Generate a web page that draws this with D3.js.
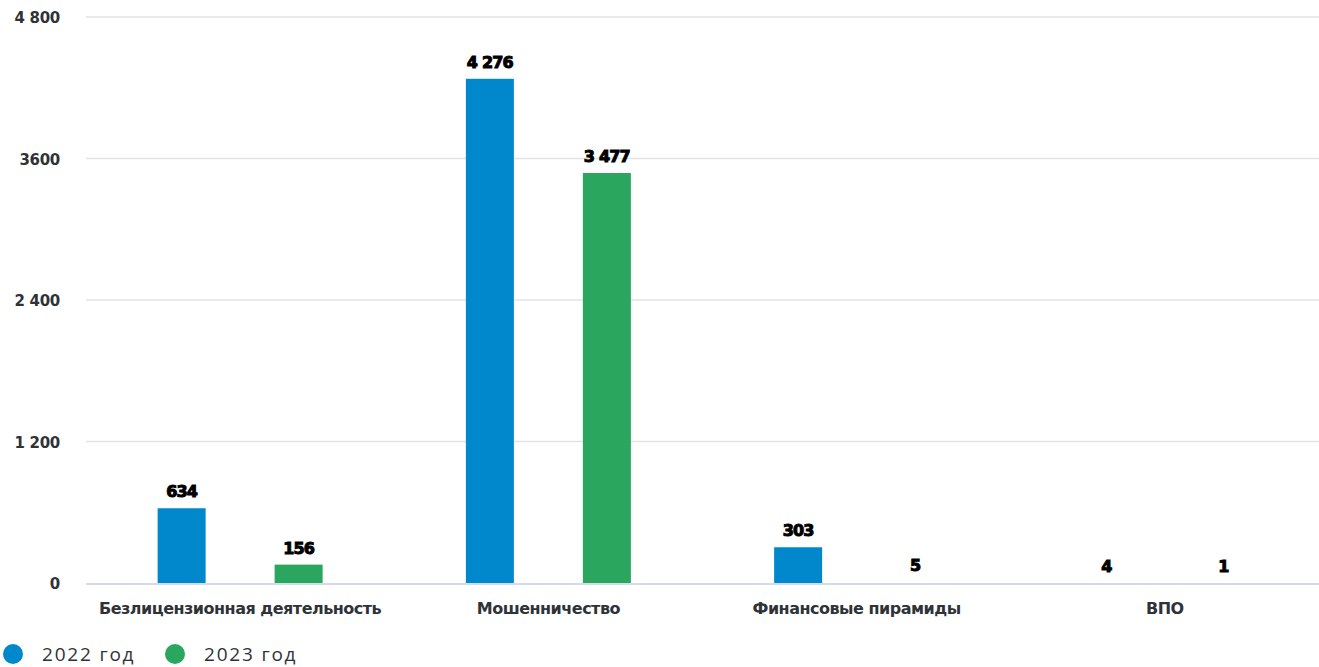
<!DOCTYPE html>
<html><head><meta charset="utf-8">
<script src="https://cdn.jsdelivr.net/npm/d3@7"></script>
<style>body{margin:0;background:#fff}svg{display:block}</style>
</head><body>
<svg id="c" width="1319" height="667"></svg>
<script>
const categories = ["Безлицензионная деятельность","Мошенничество","Финансовые пирамиды","ВПО"];
const series = ["2022 год","2023 год"];
const values2022 = [634, 4276, 303, 4];
const values2023 = [156, 3477, 5, 1];
const valueLabels2022 = ["634","4 276","303","4"];
const valueLabels2023 = ["156","3 477","5","1"];
const tickValues = [0, 1200, 2400, 3600, 4800];
const tickLabels = ["0","1 200","2 400","3600","4 800"];
const colors = ["#0087CC","#2AA65E"];

const svg = d3.select("#c");
const x0 = 86, x1 = 1319, yTop = 17, yBot = 583;
const y = d3.scaleLinear().domain([0,4800]).range([yBot,yTop]);
const xb = d3.scaleBand().domain(categories).range([x0,x1]);
const xs = d3.scalePoint().domain(series).range([-58.5,58.5]);
const bw = 48;

// grid
svg.append("g").selectAll("line").data(tickValues.filter(d=>d>0)).join("line")
  .attr("x1",x0).attr("x2",x1).attr("y1",d=>y(d)).attr("y2",d=>y(d))
  .attr("stroke","#e3e3e3").attr("stroke-width",1.5);
svg.append("line").attr("x1",x0).attr("x2",x1).attr("y1",y(0)+1).attr("y2",y(0)+1)
  .attr("stroke","#d3dce8").attr("stroke-width",2);

// y tick labels
svg.append("g").selectAll("text").data(tickValues).join("text")
  .attr("x",60).attr("y",d=>y(d)+6).attr("text-anchor","end")
  .attr("font-family","DejaVu Sans, sans-serif").attr("font-weight","bold")
  .attr("font-size",15).attr("letter-spacing",-0.3).attr("fill","#2f3338")
  .text((d,i)=>tickLabels[i]);

// bars
const data = [];
categories.forEach((c,i)=>{
  data.push({c, s:series[0], v:values2022[i], l:valueLabels2022[i], col:colors[0]});
  data.push({c, s:series[1], v:values2023[i], l:valueLabels2023[i], col:colors[1]});
});
const cx = d => xb(d.c) + xb.bandwidth()/2 + xs(d.s);
svg.append("g").selectAll("rect").data(data.filter(d=>y(0)-y(d.v)>=1)).join("rect")
  .attr("x",d=>cx(d)-bw/2).attr("width",bw)
  .attr("y",d=>y(d.v)).attr("height",d=>yBot-y(d.v))
  .attr("fill",d=>d.col);

// value labels
svg.append("g").selectAll("text").data(data).join("text")
  .attr("x",cx).attr("y",d=>y(d.v)-11).attr("text-anchor","middle")
  .attr("font-family","DejaVu Sans, sans-serif").attr("font-weight","bold")
  .attr("font-size",16).attr("letter-spacing",-0.8)
  .attr("fill","#000").attr("stroke","#000").attr("stroke-width",1)
  .text(d=>d.l);

// category labels
svg.append("g").selectAll("text").data(categories).join("text")
  .attr("x",d=>xb(d)+xb.bandwidth()/2).attr("y",614).attr("text-anchor","middle")
  .attr("font-family","DejaVu Sans, sans-serif").attr("font-weight","bold")
  .attr("font-size",16).attr("letter-spacing",-0.5).attr("fill","#2f3338")
  .text(d=>d);

// legend
const lg = svg.append("g");
const lx = [13, 175];
series.forEach((s,i)=>{
  lg.append("circle").attr("cx",lx[i]).attr("cy",654).attr("r",10).attr("fill",colors[i]);
  lg.append("text").attr("x",lx[i]+29).attr("y",661)
    .attr("font-family","Open Sans, DejaVu Sans, sans-serif").attr("font-size",19)
    .attr("letter-spacing",1.8).attr("fill","#2f3338").text(s);
});
</script>
</body></html>
